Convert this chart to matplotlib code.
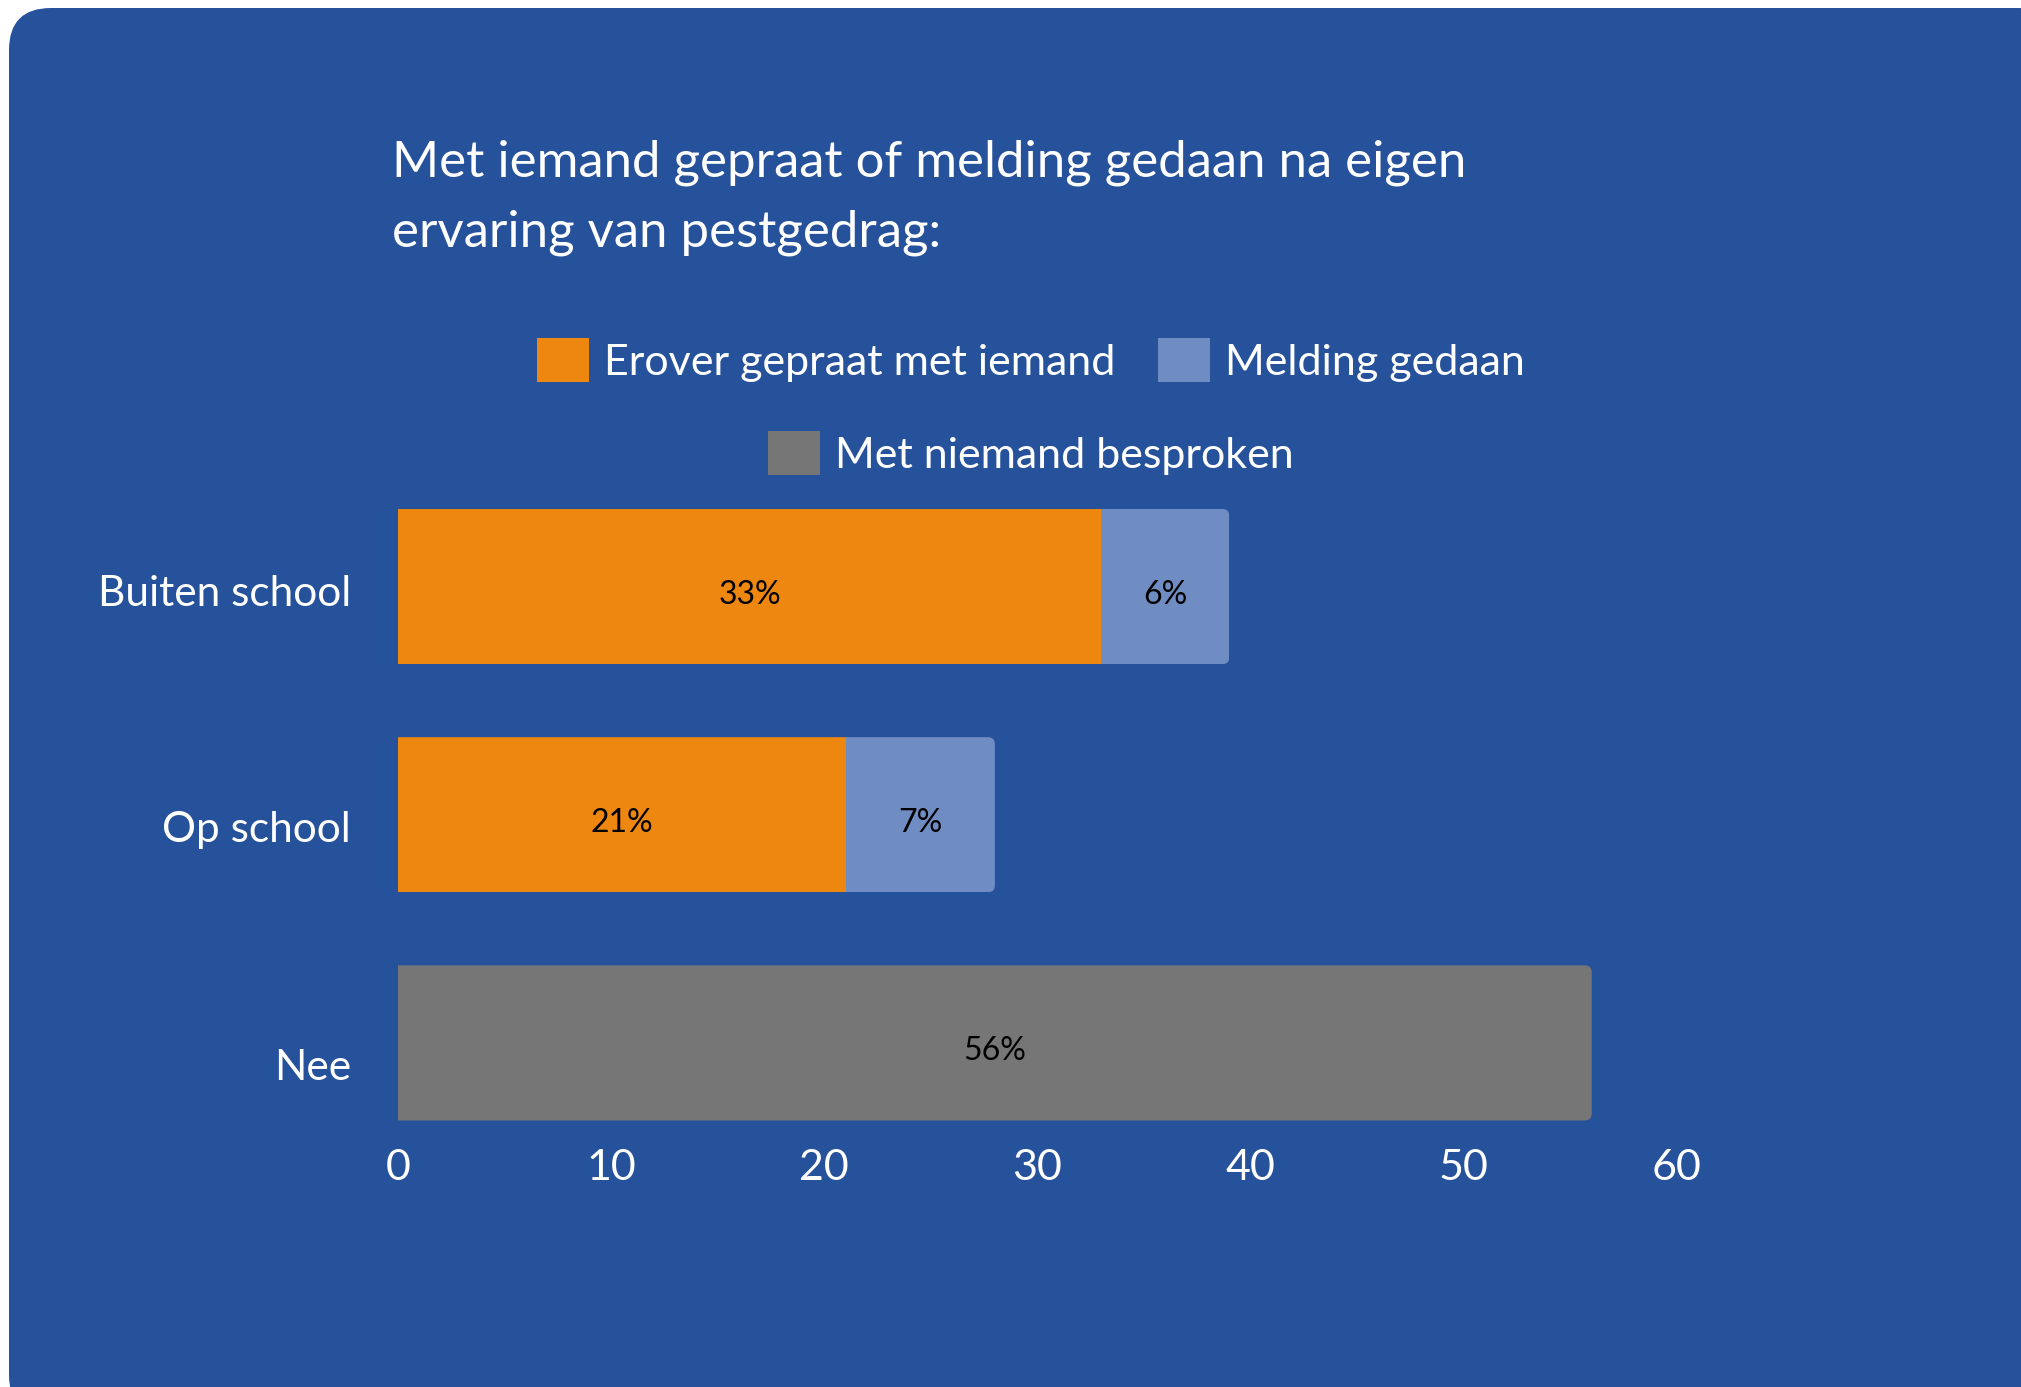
import matplotlib
matplotlib.use("Agg")
import matplotlib.pyplot as plt
from matplotlib.patches import FancyBboxPatch, Patch
from matplotlib.transforms import ScaledTranslation

plt.rcParams['font.family'] = ['Lato', 'DejaVu Sans']

# data
categories = ["Buiten school", "Op school", "Nee"]
series_names = ["Erover gepraat met iemand", "Melding gedaan", "Met niemand besproken"]
gepraat = [33, 21, 0]
melding = [6, 7, 0]
niemand = [0, 0, 56]
xticks = [0, 10, 20, 30, 40, 50, 60]

# colours
bg_blue = "#26519B"
orange = "#EE8710"
light_blue = "#6F8DC3"
grey = "#777677"

W, H = 2021, 1387
fig = plt.figure(figsize=(W / 100, H / 100), dpi=100)
fig.patch.set_facecolor("white")

# rounded blue panel behind everything
panel = FancyBboxPatch((9 / W, -30 / H), (2060 - 9) / W, (H - 8 + 30) / H,
                       boxstyle="round,pad=0,rounding_size=%f" % (42 / W),
                       mutation_aspect=W / H, transform=fig.transFigure,
                       facecolor=bg_blue, edgecolor="none", zorder=-10)
fig.patches.append(panel)

# title (two lines)
fig.text(392 / W, 1 - 177 / H, "Met iemand gepraat of melding gedaan na eigen",
         color="white", fontsize=36.6, va="baseline", ha="left")
fig.text(392 / W, 1 - 247 / H, "ervaring van pestgedrag:",
         color="white", fontsize=36.6, va="baseline", ha="left")

# axes: x=0 at 398px, x=60 at 1677px; rows at 586, 814, 1043 px
x0, x1 = 398, 1677
row_px = 228
y_top = 586.5 - 0.5 * row_px
y_bot = 1043 + 0.4 * row_px
ax = fig.add_axes([x0 / W, 1 - y_bot / H, (x1 - x0) / W, (y_bot - y_top) / H])
ax.set_facecolor("none")
ax.set_xlim(0, 60)
ax.set_ylim(2.4, -0.5)

ypos = list(range(len(categories)))
bar_h = 0.68
left2 = [a for a in gepraat]
left3 = [a + b for a, b in zip(gepraat, melding)]
b1 = ax.barh(ypos, gepraat, height=bar_h, color=orange, label=series_names[0])
b2 = ax.barh(ypos, melding, left=left2, height=bar_h, color=light_blue, label=series_names[1])
b3 = ax.barh(ypos, niemand, left=left3, height=bar_h, color=grey, label=series_names[2])

# round the right end of every bar with a clip path
px_per_x = (x1 - x0) / 60
aspect = px_per_x / row_px
r = 7 / px_per_x
for i in ypos:
    total = gepraat[i] + melding[i] + niemand[i]
    clip = FancyBboxPatch((-2, i - bar_h / 2), total + 2, bar_h,
                          boxstyle="round,pad=0,rounding_size=%f" % r,
                          mutation_aspect=aspect, transform=ax.transData)
    for cont in (b1, b2, b3):
        cont[i].set_clip_path(clip)

for cont, vals in ((b1, gepraat), (b2, melding), (b3, niemand)):
    anns = ax.bar_label(cont, labels=[f"{v}%" if v else "" for v in vals],
                        label_type="center", color="black", fontsize=23)
    for a in anns:
        a.xyann = (0, -5.8)

ax.set_yticks(ypos)
ax.set_yticklabels(categories)
ax.set_xticks(xticks)
ax.set_xticklabels([str(t) for t in xticks])
ax.tick_params(axis="y", length=0, pad=34, labelsize=30.5, labelcolor="white")
ax.tick_params(axis="x", length=0, pad=10.5, labelsize=31, labelcolor="white")
for s in ax.spines.values():
    s.set_visible(False)

# category labels sit a little lower than the bar centres in the original
shift_px = [4, 12, 22]
for lab, dy in zip(ax.get_yticklabels(), shift_px):
    lab.set_transform(lab.get_transform() + ScaledTranslation(0, -dy / 100, fig.dpi_scale_trans))

# legend: two rows, centred
h1 = [Patch(facecolor=orange), Patch(facecolor=light_blue)]
h2 = [Patch(facecolor=grey)]
leg_kw = dict(frameon=False, fontsize=31, labelcolor="white", handlelength=1.2,
              handleheight=1.2, handletextpad=0.35, columnspacing=1.0,
              borderpad=0, borderaxespad=0)
fig.legend(h1, series_names[:2], loc="center", ncol=2,
           bbox_to_anchor=(1031 / W, 1 - 360 / H), **leg_kw)
fig.legend(h2, series_names[2:], loc="center",
           bbox_to_anchor=(1031 / W, 1 - 453 / H), **leg_kw)

plt.savefig("out.png", dpi=100)
